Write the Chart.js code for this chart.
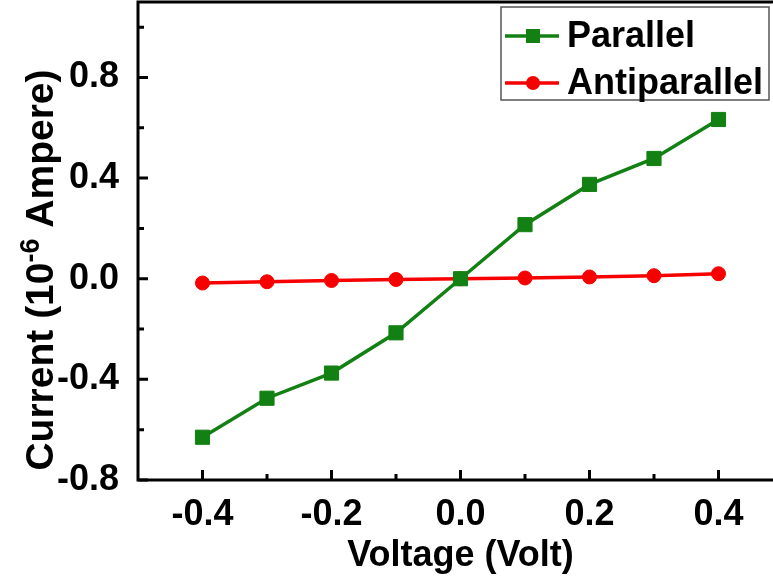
<!DOCTYPE html>
<html>
<head>
<meta charset="utf-8">
<script src="https://cdn.jsdelivr.net/npm/chart.js@4/dist/chart.umd.min.js"></script>
<style>
  html, body { margin: 0; padding: 0; background: #fff; overflow: hidden; }
  #wrap { width: 790px; height: 584px; }
</style>
</head>
<body>
<div id="wrap"><canvas id="ivChart" width="790" height="584"></canvas></div>
<script>
// I-V sweep, parallel vs antiparallel configuration
const voltage = [-0.4, -0.3, -0.2, -0.1, 0.0, 0.1, 0.2, 0.3, 0.4];
const parallel = [-0.63, -0.475, -0.375, -0.215, 0.0, 0.215, 0.375, 0.478, 0.633];
const antiparallel = [-0.017, -0.012, -0.007, -0.003, 0.0, 0.003, 0.007, 0.012, 0.02];

const xTickLabels = [-0.4, -0.2, 0.0, 0.2, 0.4];
const xMinorTicks = [-0.3, -0.1, 0.1, 0.3];
const yTickLabels = [-0.8, -0.4, 0.0, 0.4, 0.8];
const yMinorTicks = [-0.6, -0.2, 0.2, 0.6, 1.0];

const seriesNames = ['Parallel', 'Antiparallel'];
const GREEN = '#128012';
const RED = '#f70000';
const FONT = '"Liberation Sans", Arial, sans-serif';

const toPoints = (ys) => voltage.map((v, i) => ({ x: v, y: ys[i] }));

// frame, inward ticks, axis titles and the boxed legend
const decorations = {
    id: 'decorations',
    afterDraw(chart) {
        const ctx = chart.ctx;
        const area = chart.chartArea;
        const xs = chart.scales.x;
        const ys = chart.scales.y;
        ctx.save();

        ctx.strokeStyle = '#000';
        ctx.lineWidth = 3;
        ctx.strokeRect(area.left, area.top, area.right - area.left, area.bottom - area.top);

        ctx.beginPath();
        xTickLabels.forEach(v => {
            const px = xs.getPixelForValue(v);
            ctx.moveTo(px, area.bottom); ctx.lineTo(px, area.bottom - 10);
        });
        xMinorTicks.forEach(v => {
            const px = xs.getPixelForValue(v);
            ctx.moveTo(px, area.bottom); ctx.lineTo(px, area.bottom - 6);
        });
        yTickLabels.forEach(v => {
            const py = ys.getPixelForValue(v);
            ctx.moveTo(area.left, py); ctx.lineTo(area.left + 10, py);
        });
        yMinorTicks.forEach(v => {
            const py = ys.getPixelForValue(v);
            ctx.moveTo(area.left, py); ctx.lineTo(area.left + 6, py);
        });
        ctx.stroke();

        // x title
        ctx.fillStyle = '#000';
        ctx.font = 'bold 36px ' + FONT;
        ctx.textAlign = 'center';
        ctx.textBaseline = 'alphabetic';
        ctx.fillText('Voltage (Volt)', (area.left + area.right) / 2, 566);

        // y title with superscript exponent
        ctx.save();
        ctx.translate(53, 270);
        ctx.rotate(-Math.PI / 2);
        const parts = [
            { t: 'Current (10', size: 39, rise: 0 },
            { t: '-6', size: 27, rise: 14 },
            { t: ' Ampere)', size: 39, rise: 0 }
        ];
        let total = 0;
        parts.forEach(p => {
            ctx.font = 'bold ' + p.size + 'px ' + FONT;
            p.w = ctx.measureText(p.t).width;
            total += p.w;
        });
        let cx = -total / 2;
        ctx.textAlign = 'left';
        parts.forEach(p => {
            ctx.font = 'bold ' + p.size + 'px ' + FONT;
            ctx.fillText(p.t, cx, -p.rise);
            cx += p.w;
        });
        ctx.restore();

        // legend
        ctx.lineWidth = 1.5;
        ctx.strokeStyle = '#555';
        ctx.strokeRect(501, 7, 268, 93);
        const rows = [36, 83];
        chart.data.datasets.forEach((ds, i) => {
            const y = rows[i];
            ctx.strokeStyle = ds.borderColor;
            ctx.lineWidth = 3.5;
            ctx.beginPath();
            ctx.moveTo(505, y); ctx.lineTo(559, y);
            ctx.stroke();
            ctx.fillStyle = ds.backgroundColor;
            if (ds.pointStyle === 'rect') {
                ctx.fillRect(533 - 7, y - 7, 14, 14);
            } else {
                ctx.beginPath();
                ctx.arc(533, y, 7, 0, Math.PI * 2);
                ctx.fill();
            }
            ctx.fillStyle = '#000';
            ctx.font = 'bold 36px ' + FONT;
            ctx.textAlign = 'left';
            ctx.fillText(ds.label, 567, y + 11);
        });

        ctx.restore();
    }
};

new Chart(document.getElementById('ivChart'), {
    type: 'line',
    data: {
        datasets: [
            {
                label: seriesNames[0],
                data: toPoints(parallel),
                borderColor: GREEN,
                backgroundColor: GREEN,
                borderWidth: 3.5,
                pointStyle: 'rect',
                pointRadius: 10,
                pointBorderWidth: 1
            },
            {
                label: seriesNames[1],
                data: toPoints(antiparallel),
                borderColor: RED,
                backgroundColor: RED,
                borderWidth: 3.5,
                pointStyle: 'circle',
                pointRadius: 7,
                pointBorderWidth: 1
            }
        ]
    },
    options: {
        responsive: false,
        animation: false,
        layout: { autoPadding: false, padding: { top: 2, right: 7, left: 0, bottom: 0 } },
        plugins: {
            legend: { display: false },
            tooltip: { enabled: false }
        },
        scales: {
            x: {
                type: 'linear',
                min: -0.5,
                max: 0.5,
                grid: { display: false },
                border: { display: false },
                afterBuildTicks: (scale) => { scale.ticks = xTickLabels.map(v => ({ value: v })); },
                afterFit: (scale) => {
                    scale.height = 104;
                    scale.paddingLeft = 0;
                    scale.paddingRight = 0;
                },
                ticks: {
                    color: '#000',
                    padding: 5,
                    maxRotation: 0,
                    font: { family: FONT, size: 36, weight: 'bold' },
                    callback: (v) => v.toFixed(1)
                }
            },
            y: {
                min: -0.8,
                max: 1.1,
                grid: { display: false },
                border: { display: false },
                afterBuildTicks: (scale) => { scale.ticks = yTickLabels.map(v => ({ value: v })); },
                afterFit: (scale) => {
                    scale.width = 138;
                    scale.paddingTop = 0;
                    scale.paddingBottom = 0;
                },
                ticks: {
                    color: '#000',
                    padding: 11,
                    font: { family: FONT, size: 36, weight: 'bold' },
                    callback: (v) => v.toFixed(1)
                }
            }
        }
    },
    plugins: [decorations]
});
</script>
</body>
</html>
